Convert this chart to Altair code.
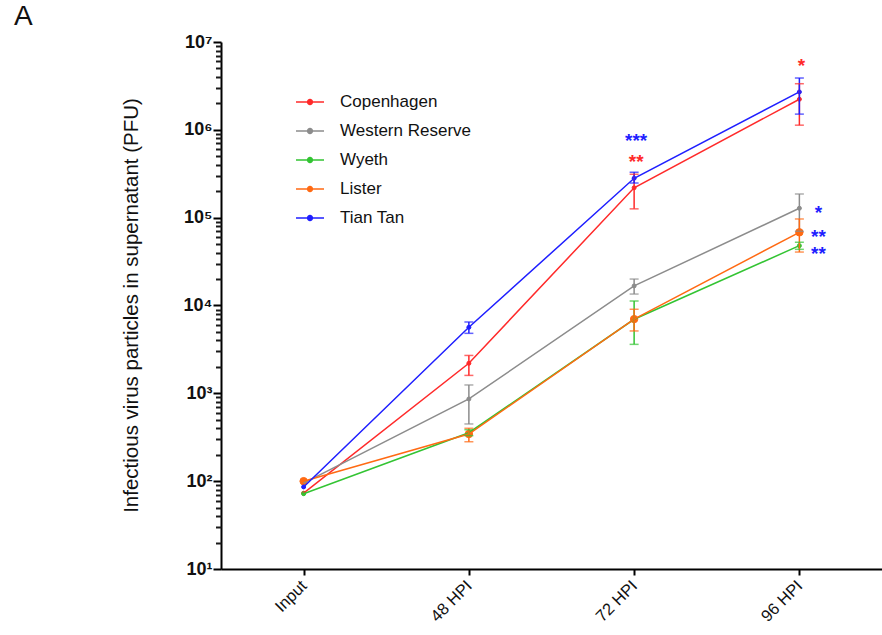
import altair as alt
import pandas as pd

# Sampling times and strains
timepoints = ["Input", "48 HPI", "72 HPI", "96 HPI"]
strains = ["Copenhagen", "Western Reserve", "Wyeth", "Lister", "Tian Tan"]
strain_colors = ["#ff2a2a", "#8c8c8c", "#33c433", "#ff6a13", "#1f1fff"]

# Mean PFU and error-bar limits per strain (None = no error bar)
copenhagen_mean = [73, 2200, 219000, 2230000]
copenhagen_low = [None, 1600, 126000, 1130000]
copenhagen_high = [None, 2700, 312000, 3350000]

western_mean = [95, 863, 16700, 128000]
western_low = [None, 448, 13500, 70000]
western_high = [None, 1245, 20000, 186000]

wyeth_mean = [72, 356, 6970, 48000]
wyeth_low = [None, 330, 3610, 43600]
wyeth_high = [None, 385, 11250, 52500]

lister_mean = [100, 344, 7000, 68100]
lister_low = [None, 281, 5130, 40600]
lister_high = [None, 400, 9060, 96600]

tiantan_mean = [86, 5650, 281000, 2700000]
tiantan_low = [None, 4820, 248000, 1510000]
tiantan_high = [None, 6490, 329000, 3890000]

# Significance marks
sig_time = ["72 HPI", "72 HPI", "96 HPI", "96 HPI", "96 HPI", "96 HPI"]
sig_label = ["***", "**", "*", "*", "**", "**"]
sig_value = [8.4e5, 4.9e5, 6.0e6, 1.3e5, 6.9e4, 4.4e4]
sig_strain = ["Tian Tan", "Copenhagen", "Copenhagen", "Tian Tan", "Tian Tan", "Tian Tan"]
sig_side = ["above", "above", "above", "right", "right", "right"]

series = [
    ("Copenhagen", copenhagen_mean, copenhagen_low, copenhagen_high),
    ("Western Reserve", western_mean, western_low, western_high),
    ("Wyeth", wyeth_mean, wyeth_low, wyeth_high),
    ("Lister", lister_mean, lister_low, lister_high),
    ("Tian Tan", tiantan_mean, tiantan_low, tiantan_high),
]
rows = []
for name, means, lows, highs in series:
    for i, (t, m, lo, hi) in enumerate(zip(timepoints, means, lows, highs)):
        rows.append({"strain": name, "time": t, "idx": i, "pfu": m, "low": lo, "high": hi})
df = pd.DataFrame(rows)

sig_df = pd.DataFrame({"time": sig_time, "label": sig_label, "pfu": sig_value,
                       "strain": sig_strain, "side": sig_side})

FONT = "Liberation Sans"

# Log axis: labelled decades plus unlabelled minor ticks
major = [10 ** k for k in range(1, 8)]
minor = [m * 10 ** k for k in range(1, 7) for m in range(2, 10)]
sup = {1: "¹", 2: "²", 3: "³", 4: "⁴", 5: "⁵", 6: "⁶", 7: "⁷"}
label_expr = "''"
for k in range(7, 0, -1):
    label_expr = f"datum.value == {10 ** k} ? '10{sup[k]}' : ({label_expr})"

x_scale = alt.Scale(type="point", domain=timepoints, padding=0.5)
y_scale = alt.Scale(type="log", domain=[10, 1e7], nice=False)
color_scale = alt.Scale(domain=strains, range=strain_colors)

x_axis = alt.Axis(title=None, labelAngle=-45, labelAlign="right", labelBaseline="middle",
                  labelFont=FONT, labelFontSize=16.5, labelColor="#111", labelPadding=8,
                  ticks=True, tickSize=6, tickWidth=2, tickColor="#000000", tickOpacity=1,
                  domainColor="black", domainWidth=2, grid=False)
y_axis = alt.Axis(orient="left", title="Infectious virus particles in supernatant (PFU)",
                  titleFont=FONT, titleFontSize=20.5, titleFontWeight="normal", titleColor="#111",
                  titleX=-90, titleY=263, titleAngle=-90, titleBaseline="middle", titleAlign="center",
                  values=major, tickCount=100, labelExpr=label_expr, labelOverlap=False,
                  labelFlush=False, labelFont=FONT, labelFontSize=18, labelFontWeight="bold",
                  labelColor="#111", labelPadding=1, ticks=True, tickSize=8, tickOpacity=1,
                  tickWidth=2, tickColor="#000000", domainColor="black", domainWidth=2, grid=False)
y_minor_axis = alt.Axis(orient="left", title=None, values=minor, tickCount=100, labels=False,
                        domain=False, ticks=True, tickSize=5.5, tickWidth=2, tickColor="#1a1a1a",
                        tickOpacity=1, grid=False)

legend_path = ("M-1,0H1M-0.17,0A0.17,0.17,0,1,1,0.17,0A0.17,0.17,0,1,1,-0.17,0Z")
legend = alt.Legend(title=None, orient="none", legendX=74, legendY=45, padding=0,
                    symbolType=legend_path, symbolSize=784, symbolStrokeWidth=1.5,
                    symbolOpacity=1, labelFont=FONT, labelFontSize=17, labelColor="#111",
                    labelOffset=15, rowPadding=6)

X = alt.X("time:N", scale=x_scale, axis=x_axis)
COLOR = alt.Color("strain:N", scale=color_scale, legend=legend)


def y_enc(field, axis=y_axis):
    return alt.Y(field, scale=y_scale, axis=axis)


base = alt.Chart(df)
has_err = "isValid(datum.low) && isFinite(datum.low)"

bars = base.mark_rule(strokeWidth=1.5).encode(
    x=X, y=y_enc("low:Q"), y2="high:Q", color=COLOR,
).transform_filter(has_err)

caps_low = base.mark_tick(thickness=1.5, size=9).encode(
    x=X, y=y_enc("low:Q"), color=COLOR,
).transform_filter(has_err)

# upper caps carry the minor-tick axis
caps_high = base.mark_tick(thickness=1.5, size=9).encode(
    x=X, y=y_enc("high:Q", y_minor_axis), color=COLOR,
).transform_filter(has_err)

lines = base.mark_line(strokeWidth=1.5).encode(
    x=X, y=y_enc("pfu:Q"), color=COLOR, order="idx:Q",
)

points = base.mark_point(filled=True, opacity=1, strokeWidth=1).encode(
    x=X, y=y_enc("pfu:Q"), color=COLOR,
    stroke=alt.Stroke("strain:N", scale=color_scale, legend=legend),
    size=alt.condition("datum.strain == 'Lister'", alt.value(55), alt.value(16)),
)

sig_base = alt.Chart(sig_df)
sig_above = sig_base.mark_text(font=FONT, fontSize=19, fontWeight="bold", baseline="middle",
                               align="center", dx=2, dy=5).encode(
    x=X, y=y_enc("pfu:Q"), text="label:N", color=COLOR,
).transform_filter("datum.side == 'above'")

sig_right = sig_base.mark_text(font=FONT, fontSize=19, fontWeight="bold", baseline="middle",
                               align="center", dx=19, dy=5).encode(
    x=X, y=y_enc("pfu:Q"), text="label:N", color=COLOR,
).transform_filter("datum.side == 'right'")

main = alt.layer(points, lines, bars, caps_low, sig_above, sig_right)

chart = alt.layer(main, caps_high).resolve_axis(y="independent").properties(
    width=661,
    height=527,
    autosize=alt.AutoSizeParams(type="none"),
    padding={"left": 221, "top": 42, "right": 0, "bottom": 66},
    background="white",
    title=alt.TitleParams(text="A", anchor="start", frame="group", dx=-207, dy=27, offset=7,
                          baseline="alphabetic", font=FONT, fontSize=28, fontWeight="normal",
                          color="#111"),
).configure_view(stroke=None).configure_axis(ticks=True)

chart.save("out.html", embed_options={"renderer": "svg", "actions": False})
